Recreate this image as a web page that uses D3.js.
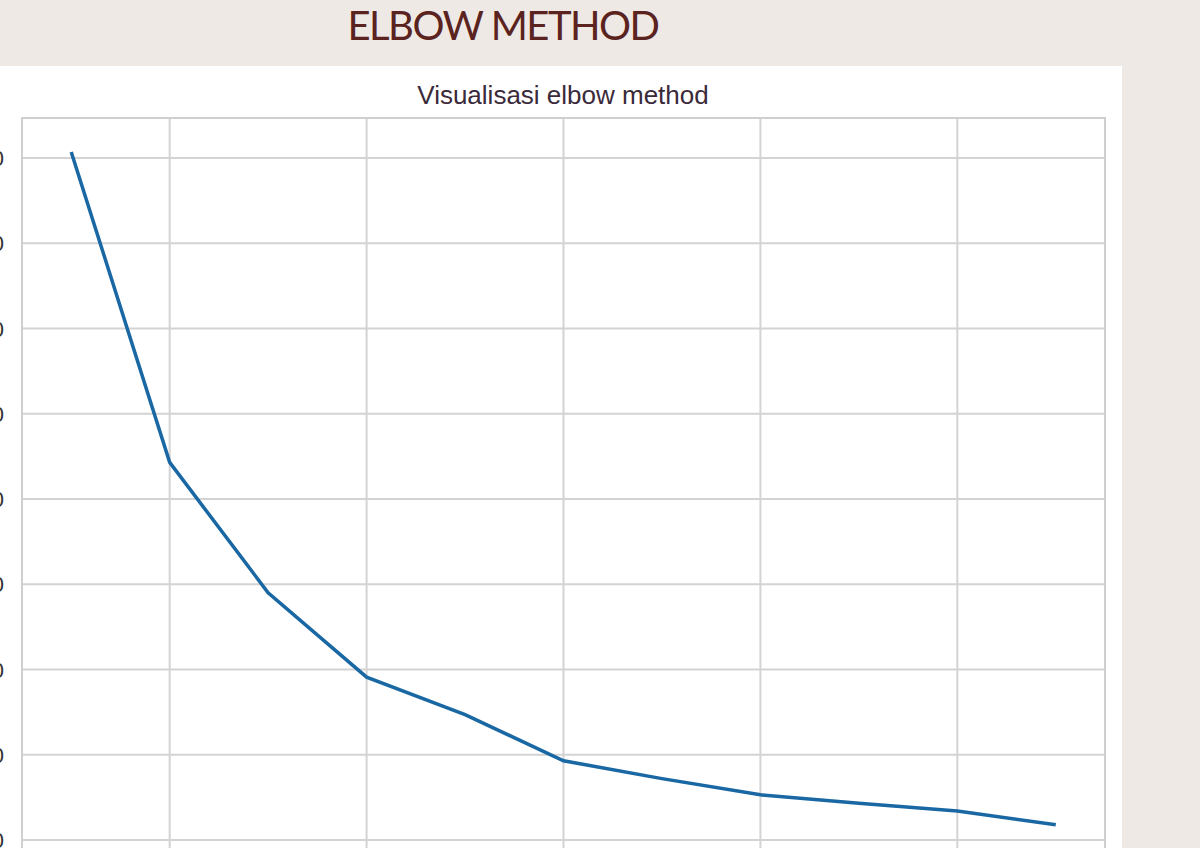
<!DOCTYPE html>
<html><head><meta charset="utf-8">
<script src="https://cdn.jsdelivr.net/npm/d3@7"></script>
<style>body{margin:0;background:#efe9e5;overflow:hidden}</style>
</head><body>
<svg id="c" width="1200" height="848"></svg>
<script>
const kValues = [1,2,3,4,5,6,7,8,9,10,11];
const inertia = [8070,4430,2900,1910,1470,930,720,530,430,340,180];
const xTicks = [2,4,6,8,10];
const yTicks = [0,1000,2000,3000,4000,5000,6000,7000,8000];

const svg = d3.select("#c");
svg.append("rect").attr("x",0).attr("y",0).attr("width",1200).attr("height",848).attr("fill","#efe9e5");
svg.append("rect").attr("x",0).attr("y",66).attr("width",1122).attr("height",782).attr("fill","#ffffff");
svg.append("text").attr("x",503).attr("y",40).attr("text-anchor","middle")
  .attr("font-family","Lato, 'Open Sans', sans-serif").attr("font-size",40).attr("font-weight",400)
  .attr("fill","#5a2320").attr("letter-spacing","-1.5").text("ELBOW METHOD");
svg.append("text").attr("x",563).attr("y",104).attr("text-anchor","middle")
  .attr("font-family","'Liberation Sans', Arial, sans-serif").attr("font-size",26)
  .attr("fill","#3a2a3a").text("Visualisasi elbow method");

const L=22,R=1105,T=118;
const x=d3.scaleLinear().domain([0.5,11.5]).range([L,R]);
const y=d3.scaleLinear().domain([0,8000]).range([840,158]);
const B=y(-500);

const g=svg.append("g");
g.selectAll(".vx").data(xTicks).join("line").attr("x1",d=>x(d)).attr("x2",d=>x(d)).attr("y1",T).attr("y2",B)
  .attr("stroke","#d3d3d3").attr("stroke-width",2);
g.selectAll(".hy").data(yTicks).join("line").attr("y1",d=>y(d)).attr("y2",d=>y(d)).attr("x1",L).attr("x2",R)
  .attr("stroke","#d3d3d3").attr("stroke-width",2);
g.append("rect").attr("x",L).attr("y",T).attr("width",R-L).attr("height",B-T)
  .attr("fill","none").attr("stroke","#cfcfcf").attr("stroke-width",2);
g.selectAll(".yl").data(yTicks).join("text").attr("x",4).attr("y",d=>y(d)+8).attr("text-anchor","end")
  .attr("font-family","'Liberation Sans', Arial, sans-serif").attr("font-size",22).attr("fill","#333").text(d=>d);

const line=d3.line().x((d,i)=>x(kValues[i])).y(d=>y(d));
g.append("path").datum(inertia).attr("d",line).attr("fill","none").attr("stroke","#1967a3").attr("stroke-width",3.5);
</script>
</body></html>
